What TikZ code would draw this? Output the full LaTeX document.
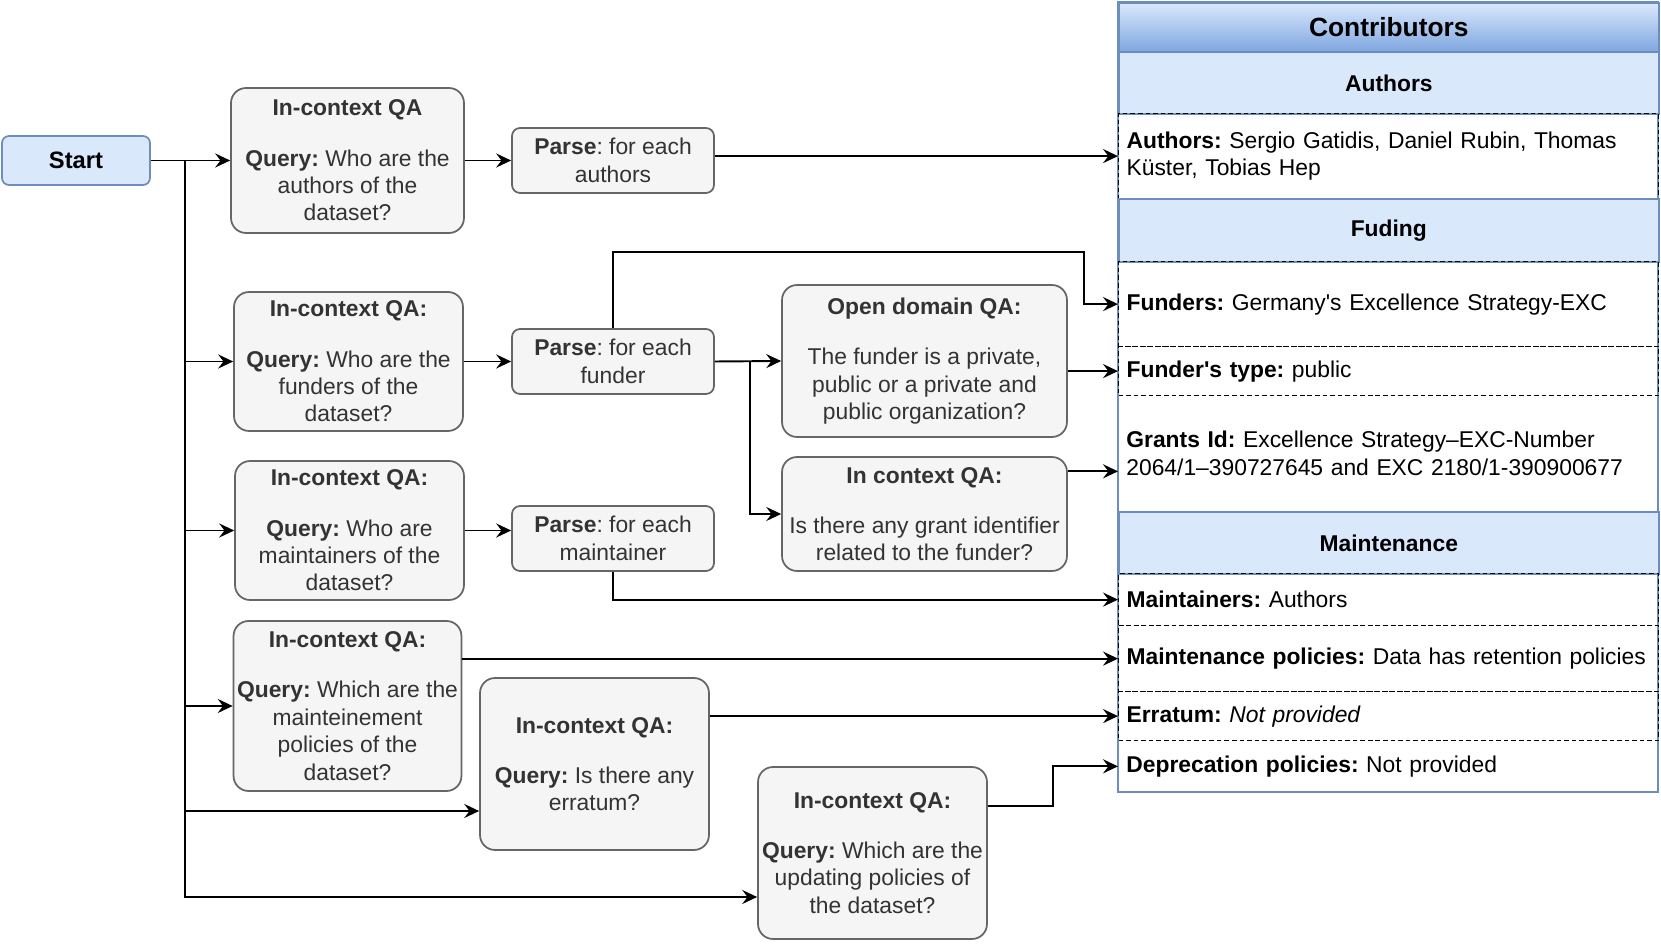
\documentclass[tikz,border=0pt]{standalone}
\usepackage{fontspec}
\setmainfont{Liberation Sans}
\usetikzlibrary{arrows.meta, calc}
\frenchspacing

\definecolor{boxfill}{HTML}{F5F5F5}
\definecolor{boxline}{HTML}{666666}
\definecolor{boxtext}{HTML}{333333}
\definecolor{bluefill}{HTML}{DAE8FC}
\definecolor{blueline}{HTML}{6C8EBF}
\definecolor{bluedark}{HTML}{7EA6E0}

\tikzset{
  base/.style={font=\fontsize{13}{15.6}\selectfont, align=center, inner sep=2pt},
  qabox/.style={base, draw=boxline, fill=boxfill, text=boxtext, line width=1pt, rounded corners=0.3cm},
  parsebox/.style={qabox, rounded corners=0.16cm},
  startbox/.style={base, draw=blueline, fill=bluefill, line width=1pt, rounded corners=0.14cm,
    font=\fontsize{13.5}{16}\selectfont\bfseries},
  hdr/.style={base, draw=blueline, fill=bluefill, line width=1pt, minimum width=10.8cm, anchor=north west,
    font=\fontsize{13}{15.6}\selectfont\bfseries},
  field/.style={base, anchor=north west, minimum width=10.8cm, text width=10.48cm, align=left, inner xsep=0.16cm},
  dashrow/.style={field, draw=black, dash pattern=on 2.6pt off 1.7pt, line width=0.7pt},
  conn/.style={-{Stealth[length=8.5pt, width=8pt, inset=3pt]}, line width=1.1pt},
}

\begin{document}
\begin{tikzpicture}[x=0.02cm, y=-0.02cm]
  \useasboundingbox (0,0) rectangle (1661,949);

  % Start
  \node[startbox, minimum width=2.96cm, minimum height=0.98cm] (start) at (76,160.5) {Start};

  % Questions and parsers
  \node[qabox, minimum width=4.66cm, minimum height=2.9cm] (qaauth) at (347.5,160.5)
    {\textbf{In-context QA}\\[13pt]\textbf{Query:} Who are the\\authors of the\\dataset?};
  \node[parsebox, minimum width=4.04cm, minimum height=1.3cm] (parseauth) at (613,160.5)
    {\textbf{Parse}: for each\\authors};
  \node[qabox, minimum width=4.58cm, minimum height=2.78cm] (qafund) at (348.5,361.5)
    {\textbf{In-context QA:}\\[13pt]\textbf{Query:} Who are the\\funders of the\\dataset?};
  \node[parsebox, minimum width=4.04cm, minimum height=1.3cm] (parsefund) at (613,361.5)
    {\textbf{Parse}: for each\\funder};
  \node[qabox, minimum width=5.7cm, minimum height=3.04cm] (qaopen) at (924.5,361)
    {\textbf{Open domain QA:}\\[13pt]The funder is a private,\\public or a private and\\public organization?};
  \node[qabox, minimum width=5.7cm, minimum height=2.28cm] (qagrant) at (924.5,514)
    {\textbf{In context QA:}\\[13pt]Is there any grant identifier\\related to the funder?};
  \node[qabox, minimum width=4.58cm, minimum height=2.78cm] (qamaint) at (349.5,530.5)
    {\textbf{In-context QA:}\\[13pt]\textbf{Query:} Who are\\maintainers of the\\dataset?};
  \node[parsebox, minimum width=4.04cm, minimum height=1.3cm] (parsemaint) at (613,538.5)
    {\textbf{Parse}: for each\\maintainer};
  \node[qabox, minimum width=4.54cm, minimum height=3.4cm] (qapol) at (347.5,706)
    {\textbf{In-context QA:}\\[13pt]\textbf{Query:} Which are the\\mainteinement\\policies of the\\dataset?};
  \node[qabox, minimum width=4.58cm, minimum height=3.44cm] (qaerr) at (594.5,764)
    {\textbf{In-context QA:}\\[13pt]\textbf{Query:} Is there any\\erratum?};
  \node[qabox, minimum width=4.58cm, minimum height=3.44cm] (qaupd) at (872.5,853)
    {\textbf{In-context QA:}\\[13pt]\textbf{Query:} Which are the\\updating policies of\\the dataset?};

  % Contributors table
  \draw[blueline, line width=1pt, fill=white] (1118,2) rectangle (1658,792);
  \node[hdr, minimum height=0.98cm, inner sep=0pt, draw=blueline, top color=bluefill, bottom color=bluedark,
    font=\fontsize{15}{18}\selectfont\bfseries] (hcontrib) at (1118,2) {Contributors};
  \node[hdr, minimum height=1.24cm] (hauth) at (1118,51) {Authors};
  \node[dashrow, minimum height=1.7cm] (rauth) at (1118,113)
    {\textbf{Authors:} Sergio Gatidis, Daniel Rubin, Thomas\\Küster, Tobias Hep};
  \node[hdr, minimum height=1.26cm] (hfund) at (1118,198) {Fuding};
  \node[dashrow, minimum height=1.7cm] (rfund) at (1118,261)
    {\textbf{Funders:} Germany\textquotesingle s Excellence Strategy-EXC};
  \node[dashrow, minimum height=0.98cm] (rftype) at (1118,346)
    {\textbf{Funder\textquotesingle s type:} public};
  \node[field, minimum height=2.32cm] (rgrant) at (1118,395)
    {\textbf{Grants Id:} Excellence Strategy–EXC-Number\\2064/1–390727645 and EXC 2180/1-390900677};
  \node[hdr, minimum height=1.24cm] (hmaint) at (1118,511) {Maintenance};
  \node[dashrow, minimum height=1.04cm] (rmaint) at (1118,573)
    {\textbf{Maintainers:} Authors};
  \node[dashrow, minimum height=1.32cm] (rmpol) at (1118,625)
    {\textbf{Maintenance policies:} Data has retention policies};
  \node[dashrow, minimum height=0.98cm] (rerr) at (1118,691)
    {\textbf{Erratum:} \textit{Not provided}};
  \node[field, minimum height=1.04cm] (rdep) at (1118,740)
    {\textbf{Deprecation policies:} Not provided};

  % Start trunk
  \coordinate (trunk) at (185,160.5);
  \draw[conn] (start.east) -- (qaauth.west);
  \draw[conn] (trunk) |- (qafund.west);
  \draw[conn] (trunk) |- (qamaint.west);
  \draw[conn] (trunk) |- (qapol.west);
  \draw[conn] (trunk) |- ($(qaerr.west)+(0,47)$);
  \draw[conn] (trunk) |- ($(qaupd.west)+(0,44)$);

  % Authors
  \draw[conn] (qaauth.east) -- (parseauth.west);
  \draw[conn] (parseauth.east |- rauth.west) -- (rauth.west);

  % Funding
  \draw[conn] (qafund.east) -- (parsefund.west);
  \draw[conn] (parsefund.north) |- (1084,252) |- (rfund.west);
  \draw[conn] (parsefund.east) -- (qaopen.west);
  \coordinate (fork) at ($(parsefund.east)+(35,0)$);
  \draw[conn] (fork) |- (qagrant.west);
  \draw[conn] (qaopen.east |- rftype.west) -- (rftype.west);
  \coordinate (grantin) at ($(rgrant.west)+(0,18)$);
  \draw[conn] (qagrant.east |- grantin) -- (grantin);

  % Maintenance
  \draw[conn] (qamaint.east) -- (qamaint.east -| parsemaint.west);
  \draw[conn] (parsemaint.south) |- (rmaint.west);
  \draw[conn] (qapol.east |- rmpol.west) -- (rmpol.west);
  \draw[conn] (qaerr.east |- rerr.west) -- (rerr.west);
  \draw[conn] ($(qaupd.east)+(0,-47)$) -- ++(65,0) |- (rdep.west);
\end{tikzpicture}
\end{document}
